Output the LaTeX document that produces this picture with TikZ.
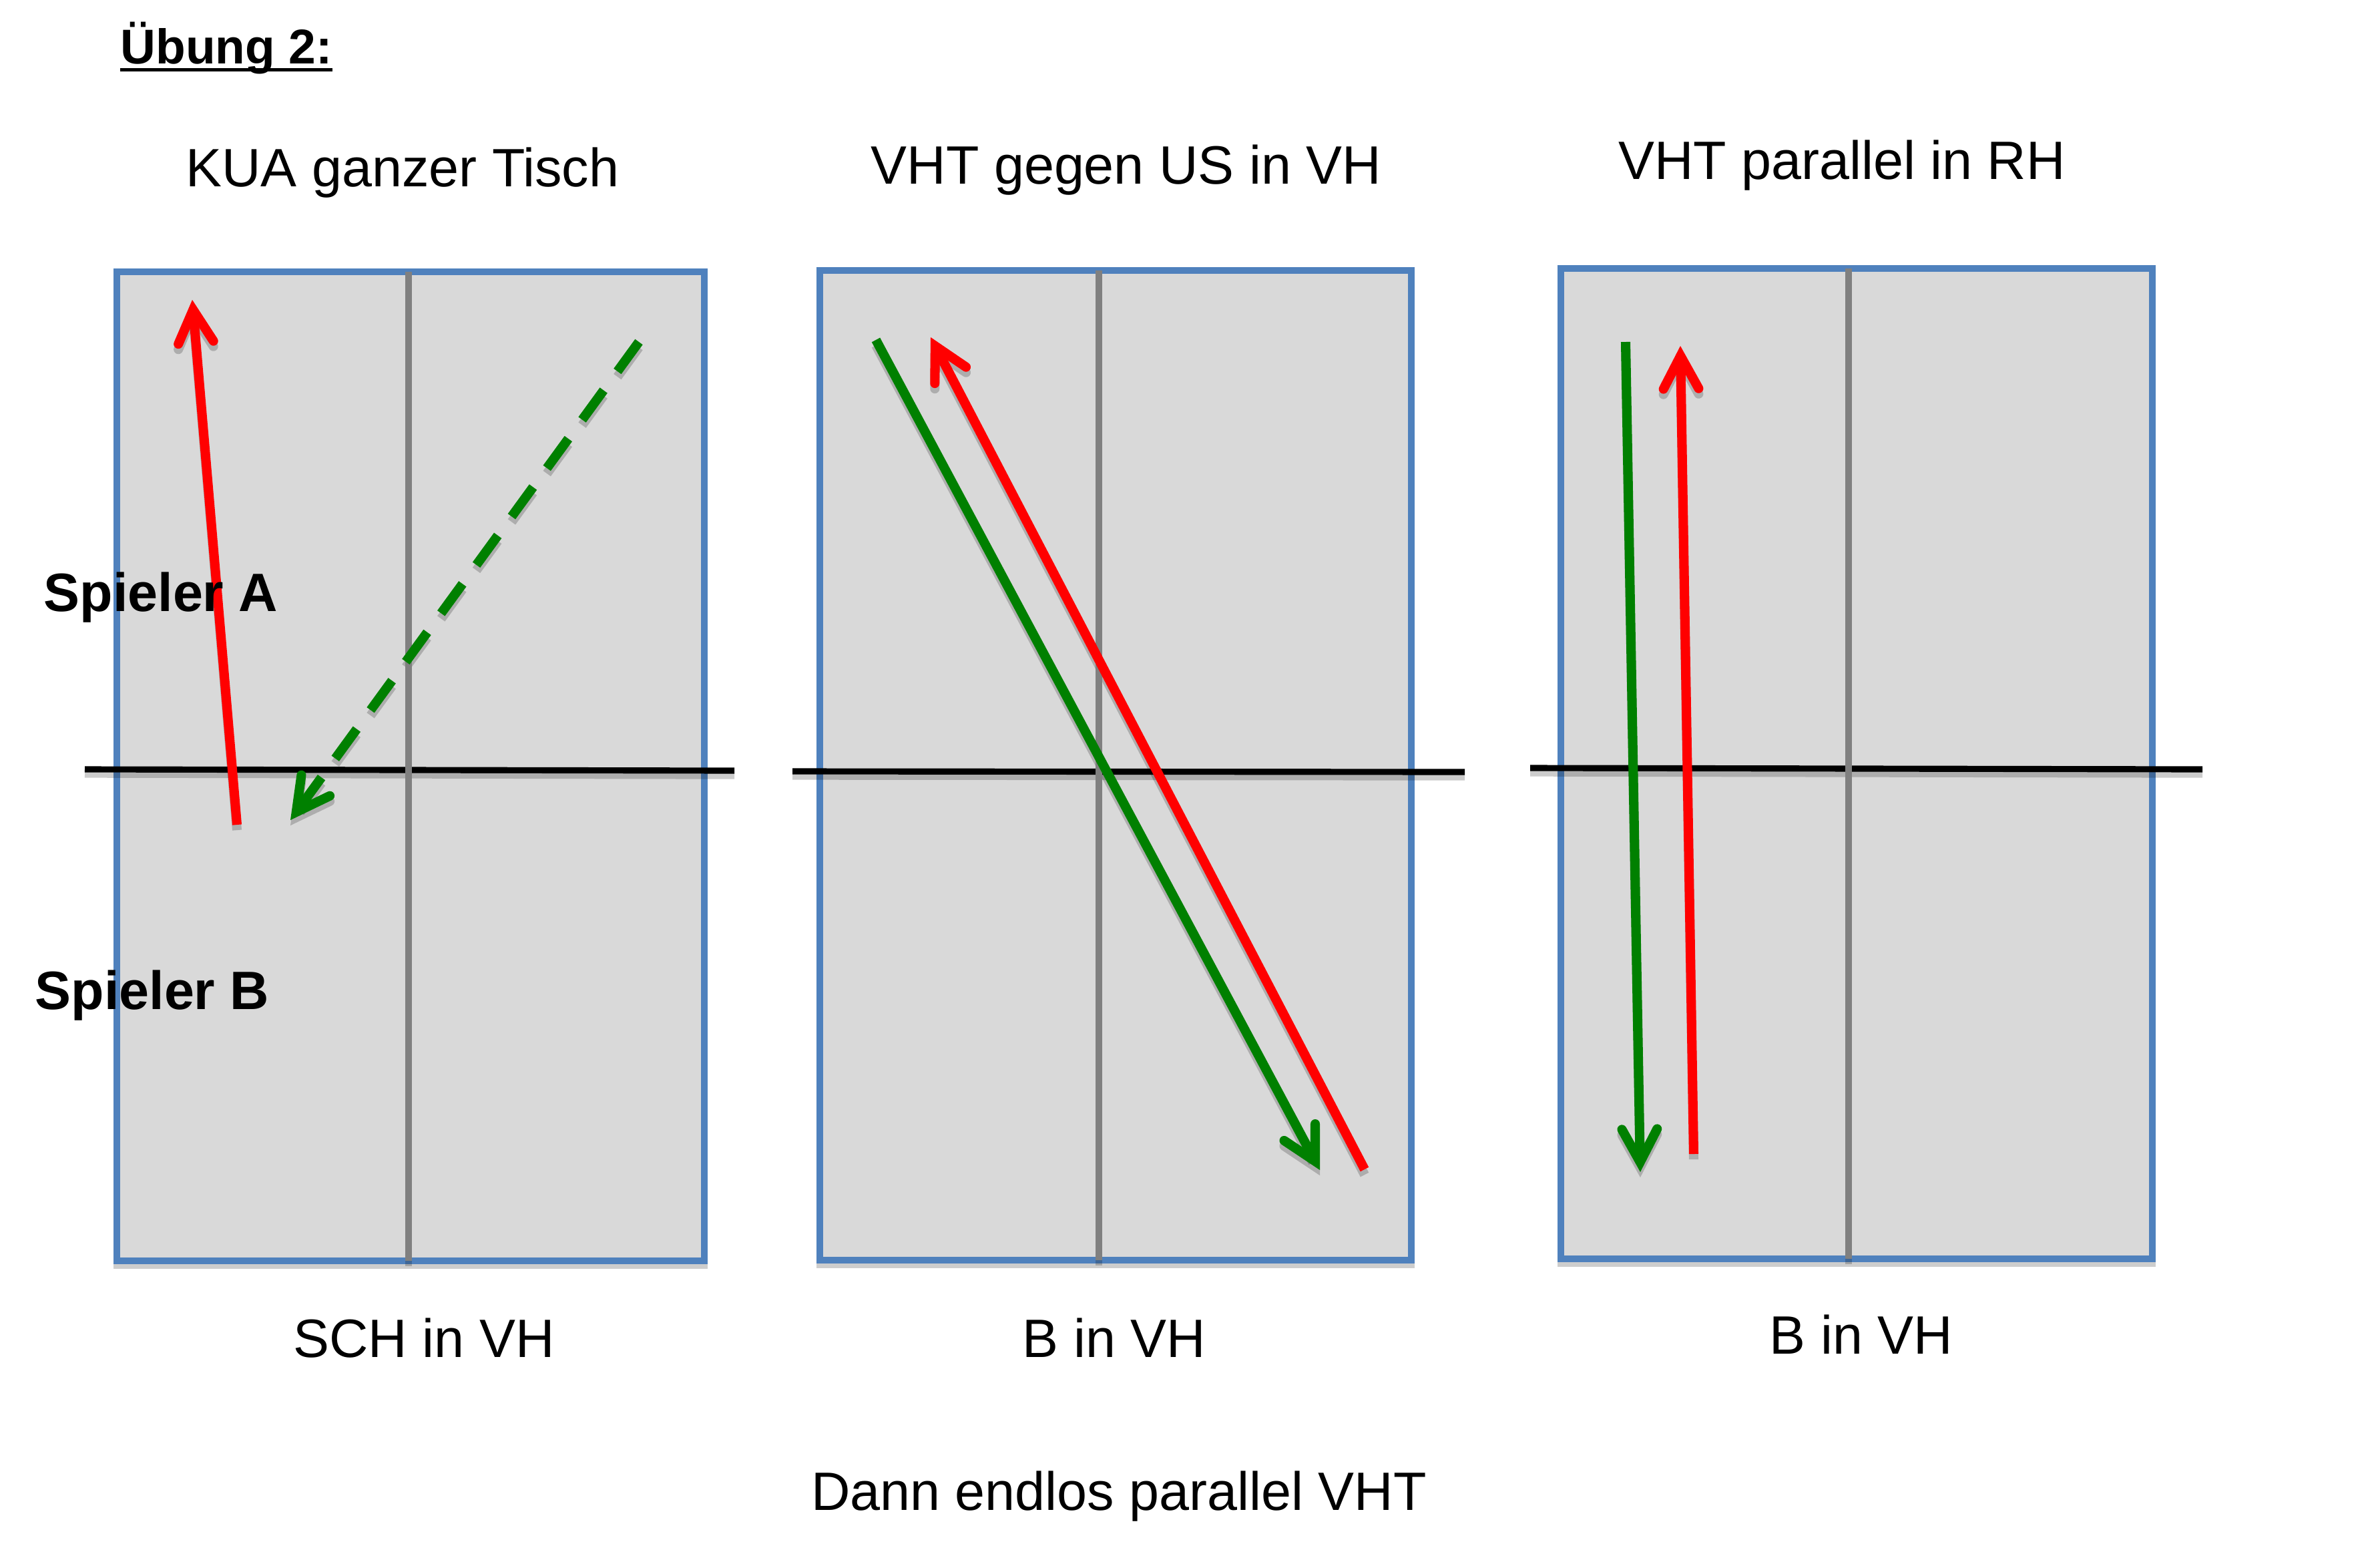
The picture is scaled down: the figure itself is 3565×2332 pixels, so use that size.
\documentclass[tikz,border=0pt]{standalone}
\usepackage{fontspec}
\setmainfont{Liberation Sans}
\usetikzlibrary{arrows.meta}
\definecolor{tableblue}{HTML}{4F81BD}
\definecolor{tablegray}{HTML}{D9D9D9}
\definecolor{shadowgray}{HTML}{CDCDCD}
\definecolor{midgray}{HTML}{808080}
\definecolor{hitred}{HTML}{FF0000}
\definecolor{hitgreen}{HTML}{008000}

\begin{document}
\begin{tikzpicture}[%
    x=0.01cm,
    y=-0.01cm,
    txt/.style={%
      inner sep=0pt,
      anchor=base,
      font=\fontsize{23}{27}\selectfont
    },
    player/.style={txt, anchor=base west, font=\fontsize{23}{27}\selectfont\bfseries},
    board/.style={draw=tableblue, line width=2.6pt, fill=tablegray},
    netline/.style={draw=black, line width=2.6pt},
    midline/.style={draw=midgray, line width=2.6pt},
    hit/.style={line width=4pt, -{Straight Barb[length=14pt,width=15pt,line cap=round]}},
    hitr/.style={hit, draw=hitred},
    hitg/.style={hit, draw=hitgreen},
    dashhit/.style={dash pattern=on 15.5pt off 10pt}
  ]
    \useasboundingbox (0,0) rectangle (3565,2332);

    % tables
    \begin{scope}[transform canvas={yshift=-2.2pt}]
      \foreach \l/\t/\r/\b in {175/407/1055/1888, 1228/405/2114/1887, 2338/402/3224/1885}
        \draw[board, draw=shadowgray, fill=shadowgray] (\l,\t) rectangle (\r,\b);
    \end{scope}
    \draw[board] (175,407) rectangle (1055,1888);
    \draw[board] (1228,405) rectangle (2114,1887);
    \draw[board] (2338,402) rectangle (3224,1885);

    % strokes
    \coordinate (r1s) at (355,1235);  \coordinate (r1e) at (288,449);
    \coordinate (g1s) at (957,512);   \coordinate (g1e) at (435,1228);
    \coordinate (g2s) at (1312,509);  \coordinate (g2e) at (1977,1752);
    \coordinate (r2s) at (2044,1751); \coordinate (r2e) at (1394,505);
    \coordinate (g3s) at (2435,512);  \coordinate (g3e) at (2457,1755);
    \coordinate (r3s) at (2537,1728); \coordinate (r3e) at (2517,518);

    % shadows
    \begin{scope}[transform canvas={yshift=-2.3pt}, every path/.style={draw=black, draw opacity=.2}]
      \draw[netline, draw=black] (127,1152) -- (1100,1154);
      \draw[netline, draw=black] (1187,1155) -- (2194,1156);
      \draw[netline, draw=black] (2292,1150) -- (3299,1152);
      \draw[midline, draw=black] (612,407) -- (612,1888);
      \draw[midline, draw=black] (1646,405) -- (1646,1887);
      \draw[midline, draw=black] (2769,402) -- (2769,1885);
      \draw[hit] (r1s) -- (r1e);
      \draw[hit, dashhit] (g1s) -- (g1e);
      \draw[hit] (g2s) -- (g2e);
      \draw[hit] (r2s) -- (r2e);
      \draw[hit] (g3s) -- (g3e);
      \draw[hit] (r3s) -- (r3e);
    \end{scope}

    \draw[netline] (127,1152) -- (1100,1154);
    \draw[netline] (1187,1155) -- (2194,1156);
    \draw[netline] (2292,1150) -- (3299,1152);

    \draw[midline] (612,407) -- (612,1888);
    \draw[midline] (1646,405) -- (1646,1887);
    \draw[midline] (2769,402) -- (2769,1885);

    \draw[hitr] (r1s) -- (r1e);
    \draw[hitg, dashhit] (g1s) -- (g1e);
    \draw[hitg] (g2s) -- (g2e);
    \draw[hitr] (r2s) -- (r2e);
    \draw[hitg] (g3s) -- (g3e);
    \draw[hitr] (r3s) -- (r3e);

    % texts
    \node[txt, anchor=base west, font=\fontsize{20.8}{25}\selectfont\bfseries] (uebung) at (180,95) {Übung 2:};
    \draw[line width=1.4pt] ([yshift=-2.6pt]uebung.base west) -- ([yshift=-2.6pt]uebung.base east);

    \node[txt] (title1) at (603,279)  {KUA ganzer Tisch};
    \node[txt] (title2) at (1687,275) {VHT gegen US in VH};
    \node[txt] (title3) at (2759,268) {VHT parallel in RH};

    \node[txt] (foot1) at (635,2032)  {SCH in VH};
    \node[txt] (foot2) at (1669,2032) {B in VH};
    \node[txt] (foot3) at (2788,2027) {B in VH};
    \node[txt] (endless) at (1676,2261) {Dann endlos parallel VHT};

    \node[player] (playerA) at (65,915)  {Spieler A};
    \node[player] (playerB) at (52,1511) {Spieler B};
\end{tikzpicture}
\end{document}
